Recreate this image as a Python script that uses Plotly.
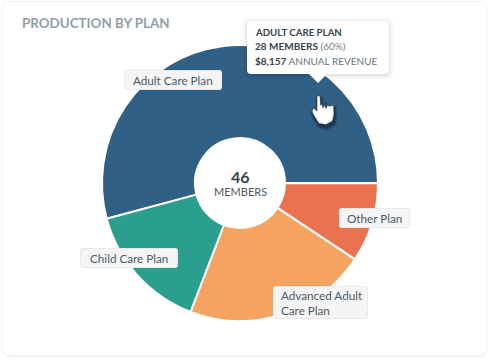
import plotly.graph_objects as go

# Data (share of the ring, percent)
plans = ["Adult Care Plan", "Other Plan", "Advanced Adult Care Plan", "Child Care Plan"]
shares = [54.2, 9.3, 21.5, 15.0]
colors = ["#316086", "#e97250", "#f4a460", "#2b9f8d"]
W, H = 489, 360
FONT = "Lato, 'Open Sans', sans-serif"
INK = "#4c5a66"
DARK = "#36434e"

def px(x):
    return x / W

def py(y):
    return 1 - y / H

cx, cy, R = 240, 183, 138

fig = go.Figure(go.Pie(
    labels=plans, values=shares, sort=False, direction="clockwise", rotation=255,
    hole=0.326, textinfo="none", hoverinfo="skip", showlegend=False,
    marker=dict(colors=colors, line=dict(color="white", width=2)),
    domain=dict(x=[px(cx - R), px(cx + R)], y=[py(cy + R), py(cy - R)]),
))

shapes = []

def rrect(x0, y0, x1, y1, r):
    return (f"M{px(x0+r)},{py(y0)} L{px(x1-r)},{py(y0)} Q{px(x1)},{py(y0)} {px(x1)},{py(y0+r)} "
            f"L{px(x1)},{py(y1-r)} Q{px(x1)},{py(y1)} {px(x1-r)},{py(y1)} "
            f"L{px(x0+r)},{py(y1)} Q{px(x0)},{py(y1)} {px(x0)},{py(y1-r)} "
            f"L{px(x0)},{py(y0+r)} Q{px(x0)},{py(y0)} {px(x0+r)},{py(y0)} Z")

def add(path, fill, line=None, width=0, layer="above", opacity=1):
    shapes.append(dict(type="path", xref="paper", yref="paper", path=path, fillcolor=fill,
                       line=dict(color=line or "rgba(0,0,0,0)", width=width), layer=layer, opacity=opacity))

def poly(points):
    return "M" + " L".join(f"{px(x)},{py(y)}" for x, y in points) + " Z"

# Card
add(rrect(2, 2, 487, 357, 9), "#e6e8e9", layer="below")
add(rrect(2, 1.5, 487, 356, 9), "#ffffff", "#f1f2f3", 1, layer="below")

# Tooltip with soft shadow and pointer
for g, a in [(5, 0.015), (3, 0.02), (2, 0.03), (1, 0.04)]:
    add(rrect(247 - g, 21 - g + 1, 389 + g, 74 + g + 1, 4 + g), "rgba(0,0,0,1)", opacity=a)
add(poly([(308, 73), (328, 73), (318, 83)]), "#ffffff")
add(rrect(247, 21, 389, 74, 4), "#ffffff")

# Hand cursor
hand = [(317, 96), (320, 96), (320.5, 105), (322, 104), (323, 108), (324.5, 104.5), (326, 108.5),
        (327.5, 105), (329, 106), (333.5, 105.5), (334, 114), (332.5, 121), (326, 124.5), (319, 123.5),
        (313, 114), (312, 110), (314, 108.5), (317, 111)]
for g, a in [(3, 0.08), (2, 0.14), (1, 0.22)]:
    add(poly([(x + 1, y + 3) for x, y in hand]), "#000000", "#000000", g * 2, opacity=a)
add(poly(hand), "#ffffff", "#222222", 0.5)

# Label boxes: text, centre, box
def box(x0, y0, x1, y1):
    add(rrect(x0, y0, x1, y1, 2), "#f5f5f6", "#e8e9ea", 1)

annotations = []

def text(s, x, y, size, color, anchor="left"):
    annotations.append(dict(text=s, x=px(x), y=py(y), xref="paper", yref="paper", showarrow=False,
                            xanchor=anchor, yanchor="middle", align=anchor, borderpad=0, borderwidth=0,
                            font=dict(family=FONT, size=size, color=color)))

box(124.5, 70.5, 221.5, 89.5)
text("Adult Care Plan", 172.5, 80, 11.7, INK, "center")
box(80.5, 248.5, 177.5, 267.5)
text("Child Care Plan", 129, 258, 11.7, INK, "center")
box(339.5, 208.5, 409.5, 227.5)
text("Other Plan", 374.5, 218, 11.7, INK, "center")
box(273.5, 286.5, 367.5, 318.5)
text("Advanced Adult<br>Care Plan", 281, 302.5, 11.7, INK)

text("<b>PRODUCTION BY PLAN</b>", 22, 23, 13.4, "#8f9fa6")
text("<b>46</b>", 240, 176, 16, DARK, "center")
text("MEMBERS", 240, 191, 11, INK, "center")
text("<b>ADULT CARE PLAN</b>", 255, 32, 9.7, DARK)
text("<b>28 MEMBERS</b> <span style='color:#7a7f85'>(60%)</span>", 255, 46.5, 10, DARK)
text("<b>$8,157</b> <span style='color:#66737d'>ANNUAL REVENUE</span>", 255, 60.5, 10, DARK)

fig.update_layout(
    width=W, height=H, margin=dict(l=0, r=0, t=0, b=0), autosize=False,
    paper_bgcolor="white", plot_bgcolor="white",
    shapes=shapes, annotations=annotations, showlegend=False,
)
fig.write_html("out.html", config={"displayModeBar": False},
               post_script="document.body.style.margin='0';document.body.style.overflow='hidden';")
